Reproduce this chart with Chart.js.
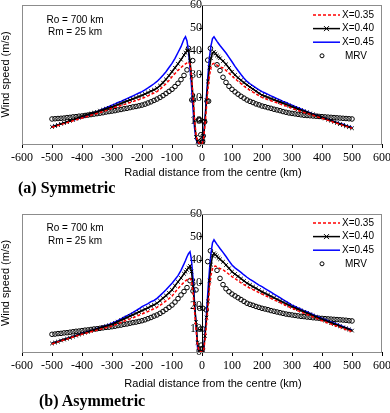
<!DOCTYPE html>
<html>
<head>
<meta charset="utf-8">
<script src="https://cdn.jsdelivr.net/npm/chart.js@4.4.0/dist/chart.umd.min.js"></script>
<style>
  body { margin: 0; background: #fff; width: 390px; height: 413px; position: relative; overflow: hidden; }
  .box { position: absolute; left: 0; width: 390px; }
  .cap { position: absolute; font: bold 16px "Liberation Serif", "Times New Roman", serif; color: #000; white-space: nowrap; }
</style>
</head>
<body>
<div class="box" style="top:0"><canvas id="chartA" width="390" height="186"></canvas></div>
<div class="cap" style="left:18px;top:179px">(a) Symmetric</div>
<div class="box" style="top:205px"><canvas id="chartB" width="390" height="190"></canvas></div>
<div class="cap" style="left:39px;top:392px">(b) Asymmetric</div>
<script>
// radial distance (km) used by the model curves
const radialX = [
  -500, -490, -480, -470, -460, -450, -440, -430, -420, -410,
  -400, -390, -380, -370, -360, -350, -340, -330, -320, -310,
  -300, -290, -280, -270, -260, -250, -240, -230, -220, -210,
  -200, -190, -180, -170, -160, -150, -140, -130, -120, -110,
  -100, -90, -80, -70,
  -60, -55, -50, -45, -40, -35, -30, -25, -20, -15, -10, -5, 0,
  5, 10, 15, 20, 25, 30, 35, 40, 45, 50, 55, 60,
  70, 80, 90,
  100, 110, 120, 130, 140, 150, 160, 170, 180, 190,
  200, 210, 220, 230, 240, 250, 260, 270, 280, 290,
  300, 310, 320, 330, 340, 350, 360, 370, 380, 390,
  400, 410, 420, 430, 440, 450, 460, 470, 480, 490, 500
];

// (a) Symmetric
const symX35 = [
  7.2, 7.6, 8.0, 8.4, 8.8, 9.2, 9.6, 10.0, 10.4, 10.8,
  11.2, 11.6, 12.0, 12.4, 12.8, 13.2, 13.6, 14.0, 14.4, 14.9,
  15.4, 15.8, 16.2, 16.6, 17.0, 17.4, 17.9, 18.3, 18.8, 19.2,
  19.7, 20.2, 20.8, 21.4, 22.0, 22.6, 23.6, 24.8, 26.0, 27.4,
  29.0, 30.4, 31.8, 33.0,
  34.1, 34.6, 35.0, 35.3, 34.5, 29.5, 20.5, 11.0, 4.0, 1.2, 0.4, 0.1, 0,
  2.0, 8.0, 16.0, 24.0, 29.5, 33.0, 34.5, 34.8, 34.4, 34.0, 33.6, 33.3,
  32.8, 31.8, 30.6,
  29.3, 28.2, 27.1, 26.1, 25.0, 24.0, 23.2, 22.4, 21.6, 20.8,
  20.1, 19.6, 19.1, 18.7, 18.2, 17.8, 17.3, 16.8, 16.4, 15.9,
  15.4, 14.9, 14.5, 14.0, 13.6, 13.2, 12.8, 12.4, 11.9, 11.5,
  11.1, 10.7, 10.2, 9.8, 9.3, 8.9, 8.5, 8.0, 7.6, 7.2, 6.8
];
const symX40 = [
  7.4, 7.8, 8.2, 8.7, 9.1, 9.5, 10.0, 10.4, 10.9, 11.4,
  11.9, 12.3, 12.7, 13.1, 13.5, 13.9, 14.4, 14.8, 15.2, 15.6,
  16.0, 16.5, 17.0, 17.5, 18.0, 18.5, 19.0, 19.5, 20.0, 20.5,
  21.0, 21.6, 22.2, 22.8, 23.4, 24.1, 25.2, 26.5, 27.9, 29.5,
  31.2, 32.9, 34.6, 36.4,
  38.4, 39.4, 40.2, 40.6, 36.0, 29.0, 20.0, 10.0, 3.0, 1.0, 0.4, 0.1, 0,
  2.5, 10.0, 19.0, 27.0, 33.0, 37.0, 39.3, 39.8, 39.0, 38.2, 37.6, 37.0,
  35.8, 34.4, 32.8,
  31.2, 29.8, 28.6, 27.5, 26.5, 25.5, 24.6, 23.7, 22.8, 21.9,
  21.1, 20.6, 20.1, 19.6, 19.1, 18.6, 18.1, 17.6, 17.1, 16.6,
  16.1, 15.6, 15.1, 14.6, 14.1, 13.7, 13.2, 12.8, 12.3, 11.9,
  11.5, 11.0, 10.5, 10.1, 9.6, 9.1, 8.6, 8.2, 7.7, 7.3, 6.8
];
const symX45 = [
  7.5, 7.9, 8.3, 8.7, 9.1, 9.5, 9.9, 10.3, 10.7, 11.1,
  11.5, 12.0, 12.5, 13.0, 13.5, 14.0, 14.6, 15.1, 15.7, 16.2,
  16.8, 17.3, 17.9, 18.4, 19.0, 19.6, 20.2, 20.8, 21.4, 22.0,
  22.6, 23.4, 24.2, 25.1, 26.0, 27.0, 28.3, 29.7, 31.2, 33.0,
  34.8, 37.0, 39.5, 42.0,
  45.3, 46.3, 44.5, 40.0, 33.0, 25.0, 15.0, 7.0, 2.0, 0.6, 0.3, 0.1, 0,
  3.0, 11.0, 21.0, 30.0, 37.5, 42.5, 45.5, 46.3, 45.3, 44.3, 43.4, 42.5,
  40.9, 39.3, 37.4,
  35.5, 33.5, 31.7, 30.0, 28.4, 27.0, 26.0, 25.1, 24.2, 23.4,
  22.6, 22.0, 21.4, 20.8, 20.2, 19.6, 19.0, 18.4, 17.9, 17.3,
  16.8, 16.2, 15.7, 15.1, 14.6, 14.0, 13.5, 13.0, 12.5, 12.0,
  11.5, 11.1, 10.6, 10.2, 9.7, 9.3, 8.9, 8.5, 8.0, 7.6, 7.2
];

// (b) Asymmetric
const asyX35 = [
  3.5, 3.9, 4.4, 4.8, 5.2, 5.6, 6.1, 6.5, 6.9, 7.3,
  7.7, 8.1, 8.4, 8.8, 9.1, 9.5, 9.9, 10.2, 10.6, 10.9,
  11.3, 11.8, 12.3, 12.8, 13.4, 13.9, 14.4, 14.9, 15.4, 16.0,
  16.5, 17.1, 17.6, 18.2, 18.8, 19.4, 20.3, 21.2, 22.2, 23.2,
  24.3, 26.0, 27.6, 29.0,
  30.3, 30.9, 31.4, 31.8, 32.0, 31.0, 26.0, 18.0, 10.0, 3.0, 0.5, 0.1, 0,
  0.3, 5.0, 12.0, 20.0, 28.0, 33.5, 36.2, 37.2, 37.4, 37.0, 36.6, 36.3,
  35.8, 34.8, 33.8,
  32.8, 31.9, 31.0, 30.1, 29.3, 28.4, 27.8, 27.1, 26.5, 25.8,
  25.2, 24.6, 24.0, 23.3, 22.7, 22.1, 21.5, 20.9, 20.2, 19.6,
  19.0, 18.5, 17.9, 17.4, 16.8, 16.3, 15.8, 15.2, 14.7, 14.1,
  13.6, 13.1, 12.6, 12.1, 11.6, 11.2, 10.7, 10.2, 9.7, 9.3, 8.8
];
const asyX40 = [
  3.7, 4.1, 4.5, 5.0, 5.4, 5.8, 6.2, 6.7, 7.1, 7.6,
  8.0, 8.4, 8.8, 9.2, 9.6, 10.0, 10.4, 10.8, 11.2, 11.6,
  12.0, 12.6, 13.2, 13.8, 14.4, 15.0, 15.6, 16.2, 16.8, 17.4,
  18.0, 18.6, 19.2, 19.9, 20.5, 21.2, 22.3, 23.4, 24.5, 25.7,
  27.0, 28.8, 30.5, 32.2,
  34.0, 34.9, 35.7, 36.6, 37.4, 35.0, 28.5, 21.0, 13.0, 4.0, 0.5, 0.1, 0,
  0.5, 7.0, 15.0, 22.0, 31.0, 38.0, 41.8, 42.9, 42.3, 41.6, 40.9, 40.3,
  39.2, 37.8, 36.4,
  34.9, 33.9, 32.9, 31.9, 30.9, 29.9, 29.2, 28.4, 27.7, 26.9,
  26.2, 25.5, 24.9, 24.2, 23.6, 22.9, 22.3, 21.6, 21.0, 20.3,
  19.7, 19.1, 18.6, 18.0, 17.5, 16.9, 16.4, 15.8, 15.3, 14.7,
  14.2, 13.7, 13.2, 12.7, 12.2, 11.7, 11.2, 10.7, 10.3, 9.8, 9.3
];
const asyX45 = [
  3.8, 4.2, 4.6, 5.1, 5.5, 5.9, 6.3, 6.8, 7.2, 7.7,
  8.1, 8.5, 8.9, 9.3, 9.7, 10.2, 10.6, 11.1, 11.5, 12.0,
  12.5, 13.1, 13.7, 14.4, 15.1, 15.8, 16.5, 17.2, 18.0, 18.8,
  19.7, 20.4, 21.0, 21.9, 22.4, 23.3, 24.5, 25.8, 27.1, 28.5,
  29.9, 31.5, 33.2, 35.5,
  38.3, 39.8, 41.4, 42.8, 43.6, 40.0, 32.0, 22.0, 12.0, 2.0, 0.3, 0.1, 0,
  0.5, 8.0, 17.0, 27.0, 36.0, 43.0, 47.5, 48.8, 47.8, 46.8, 45.9, 45.0,
  43.3, 41.5, 39.6,
  37.8, 36.6, 35.6, 34.6, 33.5, 32.5, 31.6, 30.8, 29.9, 29.1,
  28.4, 27.6, 26.8, 26.0, 25.2, 24.4, 23.6, 22.8, 22.0, 21.2,
  20.4, 19.8, 19.2, 18.6, 18.0, 17.5, 16.9, 16.3, 15.7, 15.2,
  14.6, 14.1, 13.6, 13.1, 12.6, 12.1, 11.6, 11.1, 10.6, 10.1, 9.6
];

// MRV points: outer radii on both sides, plus the scattered points near the eye
const mrvOuterLeftX = [
  -500, -490, -480, -470, -460, -450, -440, -430, -420, -410,
  -400, -390, -380, -370, -360, -350, -340, -330, -320, -310,
  -300, -290, -280, -270, -260, -250, -240, -230, -220, -210,
  -200, -190, -180, -170, -160, -150, -140, -130, -120, -110,
  -100, -90, -80, -70, -60, -50
];
const mrvOuterRightX = [
  50, 60, 70, 80, 90,
  100, 110, 120, 130, 140, 150, 160, 170, 180, 190,
  200, 210, 220, 230, 240, 250, 260, 270, 280, 290,
  300, 310, 320, 330, 340, 350, 360, 370, 380, 390,
  400, 410, 420, 430, 440, 450, 460, 470, 480, 490, 500
];

const symMrvLeft = [
  10.8, 10.9, 11.0, 11.1, 11.2, 11.4, 11.5, 11.7, 11.8, 12.0,
  12.1, 12.3, 12.5, 12.7, 12.9, 13.1, 13.3, 13.5, 13.8, 14.0,
  14.2, 14.4, 14.7, 14.9, 15.2, 15.4, 15.7, 16.0, 16.2, 16.5,
  16.8, 17.2, 17.7, 18.2, 18.8, 19.4, 20.1, 20.9, 21.8, 22.7,
  23.6, 24.8, 26.2, 27.8, 29.6, 32.0
];
const symMrvEyeX = [-45, -31, -34, -28, -11, -7, -4, -2, 0, 2, 4, 6, 9, 17, 22, 19, 28];
const symMrvEyeY = [41.3, 36.0, 19.0, 19.0, 10.4, 10.4, 4.0, 1.5, 0.5, 1.0, 3.5, 9.6, 9.6, 18.5, 18.5, 36.2, 41.3];
const symMrvRight = [
  34.2, 31.7, 28.8, 26.6, 24.9,
  23.6, 22.5, 21.5, 20.6, 19.8, 19.0, 18.4, 17.9, 17.3, 16.9,
  16.4, 16.1, 15.7, 15.4, 15.0, 14.7, 14.4, 14.0, 13.7, 13.4,
  13.2, 13.0, 12.8, 12.6, 12.4, 12.3, 12.2, 12.1, 12.0, 11.9,
  11.8, 11.7, 11.6, 11.5, 11.4, 11.3, 11.2, 11.1, 11.0, 10.9, 10.8
];

const asyMrvLeft = [
  7.7, 7.8, 8.0, 8.1, 8.3, 8.4, 8.6, 8.8, 9.0, 9.1,
  9.3, 9.5, 9.6, 9.8, 10.0, 10.1, 10.3, 10.5, 10.7, 10.8,
  11.0, 11.2, 11.5, 11.7, 12.0, 12.2, 12.5, 12.8, 13.0, 13.3,
  13.6, 14.0, 14.5, 15.0, 15.6, 16.1, 16.8, 17.6, 18.5, 19.4,
  20.4, 21.7, 23.2, 24.8, 26.3, 28.0
];
const asyMrvEyeX = [-40, -30, -20, -8, 3, -5, 3, -3, 0, 14, 19, 28];
const asyMrvEyeY = [31.0, 26.5, 27.0, 19.0, 19.0, 10.0, 10.0, 3.0, 1.5, 18.3, 39.3, 44.0];
const asyMrvRight = [
  35.5, 32.0, 29.3, 27.5, 26.2,
  25.2, 24.4, 23.6, 22.8, 22.0, 21.2, 20.7, 20.3, 19.8, 19.4,
  19.0, 18.7, 18.4, 18.0, 17.7, 17.4, 17.1, 16.8, 16.5, 16.3,
  16.1, 15.9, 15.7, 15.5, 15.4, 15.2, 15.1, 14.9, 14.8, 14.7,
  14.6, 14.5, 14.4, 14.3, 14.2, 14.1, 14.0, 13.9, 13.8, 13.6, 13.5
];

const seriesLabels = ['X=0.35', 'X=0.40', 'X=0.45', 'MRV'];
const noteLines = ['Ro = 700 km', 'Rm = 25 km'];
const xTitle = 'Radial distance from the centre (km)';
const yTitle = 'Wind speed (m/s)';

const SANS = '"Liberation Sans", Arial, sans-serif';
const SERIF = '"Liberation Serif", "Times New Roman", serif';

function pts(xs, ys) {
  return xs.map((x, i) => ({ x: x, y: ys[i] }));
}

// frame, notes, legend and axis titles
const decor = {
  id: 'decor',
  beforeDatasetsDraw(chart) {
    const { ctx, chartArea: a } = chart;
    ctx.save();
    ctx.strokeStyle = '#8c8c8c';
    ctx.lineWidth = 1;
    ctx.strokeRect(a.left + 0.5, a.top + 0.5, a.right - a.left - 1, a.bottom - a.top);
    ctx.restore();
  },
  afterDraw(chart, args, o) {
    const { ctx, chartArea: a } = chart;
    ctx.save();
    ctx.fillStyle = '#000';
    ctx.textBaseline = 'middle';

    ctx.font = '10px ' + SANS;
    ctx.textAlign = 'center';
    ctx.fillText(noteLines[0], 75, a.top + o.noteDy);
    ctx.fillText(noteLines[1], 75, a.top + o.noteDy + 12.5);

    // legend
    const x0 = 313, x1 = 340;
    chart.data.datasets.forEach((ds, i) => {
      const y = a.top + o.legendDy + i * 13.6;
      ctx.save();
      ctx.strokeStyle = ds.borderColor;
      ctx.lineWidth = 1.5;
      if (ds.showLine) {
        ctx.setLineDash(ds.borderDash || []);
        ctx.beginPath();
        ctx.moveTo(x0, y);
        ctx.lineTo(x1, y);
        ctx.stroke();
        ctx.setLineDash([]);
      }
      if (ds.pointStyle === 'crossRot') {
        const cx = (x0 + x1) / 2, r = 2.5;
        ctx.lineWidth = 1;
        ctx.beginPath();
        ctx.moveTo(cx - r, y - r); ctx.lineTo(cx + r, y + r);
        ctx.moveTo(cx - r, y + r); ctx.lineTo(cx + r, y - r);
        ctx.stroke();
      }
      if (!ds.showLine) {
        ctx.lineWidth = 1;
        ctx.beginPath();
        ctx.arc(322, y, 2, 0, Math.PI * 2);
        ctx.stroke();
      }
      ctx.restore();
      ctx.textAlign = 'left';
      ctx.fillText(ds.label, ds.showLine ? 342 : 345, y);
    });

    // axis titles
    ctx.font = '11px ' + SANS;
    ctx.textAlign = 'center';
    ctx.fillText(xTitle, 213, o.xTitleY);
    ctx.translate(6, (a.top + a.bottom) / 2);
    ctx.rotate(-Math.PI / 2);
    ctx.fillText(yTitle, 0, 0);
    ctx.restore();
  }
};

function makeChart(id, v35, v40, v45, mrvX, mrvY, opt) {
  return new Chart(document.getElementById(id), {
    type: 'scatter',
    data: {
      datasets: [
        {
          label: seriesLabels[0], data: pts(radialX, v35), showLine: true,
          borderColor: '#ff0000', borderWidth: 1.5, borderDash: [3, 2], pointRadius: 0
        },
        {
          label: seriesLabels[1], data: pts(radialX, v40), showLine: true,
          borderColor: '#000000', borderWidth: 1.5, pointStyle: 'crossRot',
          pointRadius: 2.5, pointBorderWidth: 1, pointBorderColor: '#000000'
        },
        {
          label: seriesLabels[2], data: pts(radialX, v45), showLine: true,
          borderColor: '#0000ff', borderWidth: 1.5, pointRadius: 0
        },
        {
          label: seriesLabels[3], data: pts(mrvX, mrvY), showLine: false,
          borderColor: '#000000', backgroundColor: 'rgba(0,0,0,0)',
          pointStyle: 'circle', pointRadius: 2.3, pointBorderWidth: 1
        }
      ]
    },
    options: {
      responsive: false,
      animation: false,
      layout: { padding: { top: opt.padTop, left: 22, right: 8, bottom: opt.padBottom } },
      plugins: {
        legend: { display: false },
        tooltip: { enabled: false },
        decor: { noteDy: opt.noteDy, legendDy: opt.legendDy, xTitleY: opt.xTitleY }
      },
      scales: {
        x: {
          type: 'linear', min: -600, max: 600,
          ticks: { stepSize: 100, color: '#000', padding: 3, font: { family: SERIF, size: 12 } },
          grid: { drawOnChartArea: false, drawTicks: true, tickLength: 4, color: '#000' },
          border: { color: '#000', width: 1 },
          afterFit(s) { s.height = 22; s.paddingLeft = 0; s.paddingRight = 0; }
        },
        y: {
          type: 'linear', position: { x: 0 }, min: 0, max: 60,
          ticks: { stepSize: 10, color: '#000', padding: 1, font: { family: SERIF, size: 12 } },
          grid: { drawOnChartArea: false, drawTicks: true, tickLength: 3, color: '#000' },
          border: { color: '#000', width: 1 },
          afterFit(s) { s.paddingTop = 0; s.paddingBottom = 0; }
        }
      }
    },
    plugins: [decor]
  });
}

makeChart('chartA', symX35, symX40, symX45,
  mrvOuterLeftX.concat(symMrvEyeX, mrvOuterRightX),
  symMrvLeft.concat(symMrvEyeY, symMrvRight),
  { padTop: 5, padBottom: 20, noteDy: 15, legendDy: 10, xTitleY: 173 });

makeChart('chartB', asyX35, asyX40, asyX45,
  mrvOuterLeftX.concat(asyMrvEyeX, mrvOuterRightX),
  asyMrvLeft.concat(asyMrvEyeY, asyMrvRight),
  { padTop: 9, padBottom: 21, noteDy: 14.5, legendDy: 9, xTitleY: 179 });
</script>
</body>
</html>
